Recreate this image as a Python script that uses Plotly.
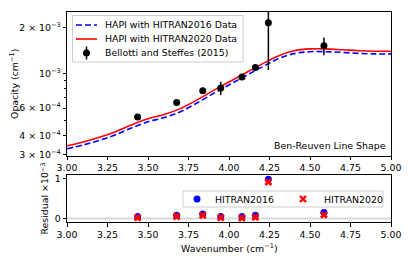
import plotly.graph_objects as go

# ---------------- data ----------------
model_x = [3.0, 3.1, 3.2, 3.3, 3.4, 3.5, 3.6, 3.7, 3.8, 3.9, 4.0,
           4.1, 4.2, 4.3, 4.4, 4.5, 4.6, 4.7, 4.8, 4.9, 5.0]
hitran2016 = [3.27e-4, 3.46e-4, 3.71e-4, 4.03e-4, 4.47e-4, 4.89e-4, 5.21e-4,
              5.68e-4, 6.45e-4, 7.41e-4, 8.47e-4, 9.67e-4, 1.10e-3, 1.245e-3,
              1.35e-3, 1.39e-3, 1.39e-3, 1.375e-3, 1.355e-3, 1.345e-3, 1.345e-3]
hitran2020 = [3.42e-4, 3.62e-4, 3.88e-4, 4.22e-4, 4.68e-4, 5.12e-4, 5.45e-4,
              5.95e-4, 6.75e-4, 7.75e-4, 8.85e-4, 1.01e-3, 1.15e-3, 1.30e-3,
              1.41e-3, 1.45e-3, 1.45e-3, 1.43e-3, 1.41e-3, 1.40e-3, 1.40e-3]

meas_x = [3.436, 3.677, 3.838, 3.949, 4.080, 4.163, 4.243, 4.586]
meas_y = [5.26e-4, 6.53e-4, 7.77e-4, 8.09e-4, 9.52e-4, 1.099e-3, 2.14e-3, 1.52e-3]
meas_err = [2e-5, 2e-5, 2e-5, 8e-5, 2e-5, 2e-5, 1.08e-3, 2.0e-4]

resid_2016 = [0.05, 0.08, 0.11, 0.05, 0.05, 0.08, 0.99, 0.15]
resid_2020 = [0.02, 0.05, 0.08, 0.02, 0.01, 0.03, 0.92, 0.09]

x_ticks = [3.0, 3.25, 3.5, 3.75, 4.0, 4.25, 4.5, 4.75, 5.0]
x_tick_text = ["3.00", "3.25", "3.50", "3.75", "4.00", "4.25", "4.50", "4.75", "5.00"]
y_ticks = [3e-4, 4e-4, 6e-4, 1e-3, 2e-3]
y_tick_text = ["3 × 10<sup>−4</sup>", "4 × 10<sup>−4</sup>", "6 × 10<sup>−4</sup>",
               "10<sup>−3</sup>", "2 × 10<sup>−3</sup>"]
y_minor = [5e-4, 7e-4, 8e-4, 9e-4]
r_ticks = [0, 1]
r_tick_text = ["0", "1"]

top_legend_labels = ["HAPI with HITRAN2016 Data", "HAPI with HITRAN2020 Data",
                     "Bellotti and Steffes (2015)"]
bottom_legend_labels = ["HITRAN2016", "HITRAN2020"]

# ---------------- figure ----------------
W, H = 409, 265
FONT = "DejaVu Sans"
FS = 9.4
BLUE = "#0000ff"
RED = "#ff0000"


def px_x(p):
    return p / W


def px_y(p):
    return (H - p) / H


fig = go.Figure()

fig.add_trace(go.Scatter(x=model_x, y=hitran2016, mode="lines",
                         line=dict(color=BLUE, width=1.6, dash="6px,3px", shape="spline"),
                         name=top_legend_labels[0], xaxis="x", yaxis="y", showlegend=False))
fig.add_trace(go.Scatter(x=model_x, y=hitran2020, mode="lines",
                         line=dict(color=RED, width=1.6, shape="spline"),
                         name=top_legend_labels[1], xaxis="x", yaxis="y", showlegend=False))
fig.add_trace(go.Scatter(x=meas_x, y=meas_y, mode="markers",
                         marker=dict(color="black", size=7),
                         error_y=dict(type="data", array=meas_err, color="black",
                                      thickness=1.5, width=0),
                         name=top_legend_labels[2], xaxis="x", yaxis="y", showlegend=False))

fig.add_trace(go.Scatter(x=meas_x, y=resid_2016, mode="markers",
                         marker=dict(color=BLUE, size=7, symbol="circle"),
                         name=bottom_legend_labels[0], xaxis="x2", yaxis="y2",
                         showlegend=False))
fig.add_trace(go.Scatter(x=meas_x, y=resid_2020, mode="markers",
                         marker=dict(color=RED, size=7, symbol="x"),
                         name=bottom_legend_labels[1], xaxis="x2", yaxis="y2",
                         showlegend=False))

ax_common = dict(showline=True, linecolor="black", linewidth=1, mirror=True,
                 ticks="outside", ticklen=3.5, tickwidth=0.8, tickcolor="black",
                 showgrid=False, zeroline=False, automargin=False,
                 tickfont=dict(family=FONT, size=FS, color="black"))

x_dom = [px_x(67), px_x(391)]

fig.update_layout(
    width=W, height=H,
    margin=dict(l=0, r=0, t=0, b=0),
    paper_bgcolor="white", plot_bgcolor="white",
    font=dict(family=FONT, size=FS, color="black"),
    showlegend=False,
    xaxis=dict(domain=x_dom, range=[3, 5], anchor="y",
               tickmode="array", tickvals=x_ticks, ticktext=x_tick_text, **ax_common),
    yaxis=dict(domain=[px_y(155.5), px_y(12)], type="log",
               range=[-3.529, -2.600], anchor="x",
               tickmode="array", tickvals=y_ticks, ticktext=y_tick_text,
               minor=dict(tickmode="array", tickvals=y_minor, ticklen=2,
                          tickcolor="black", ticks="outside"),
               **ax_common),
    xaxis2=dict(domain=x_dom, range=[3, 5], anchor="y2",
                tickmode="array", tickvals=x_ticks, ticktext=x_tick_text, **ax_common),
    yaxis2=dict(domain=[px_y(222), px_y(175)], range=[-0.09, 1.10], anchor="x2",
                tickmode="array", tickvals=r_ticks, ticktext=r_tick_text, **ax_common),
)

# zero line in residual panel
fig.add_shape(type="line", xref="x2 domain", yref="y2", x0=0, x1=1, y0=0, y1=0,
              line=dict(color="#d9d9d9", width=2), layer="below")


# ---------- manual legends (pixel-placed in paper coords) ----------
def rect(x0, y0, x1, y1):
    fig.add_shape(type="rect", xref="paper", yref="paper",
                  x0=px_x(x0), x1=px_x(x1), y0=px_y(y1), y1=px_y(y0),
                  line=dict(color="#cccccc", width=1),
                  fillcolor="rgba(255,255,255,0.8)", layer="above")


def hline(x0, x1, y, color, dash="solid", width=1.6):
    fig.add_shape(type="line", xref="paper", yref="paper",
                  x0=px_x(x0), x1=px_x(x1), y0=px_y(y), y1=px_y(y),
                  line=dict(color=color, width=width, dash=dash), layer="above")


def vline(x, y0, y1, color, width=1.5):
    fig.add_shape(type="line", xref="paper", yref="paper",
                  x0=px_x(x), x1=px_x(x), y0=px_y(y0), y1=px_y(y1),
                  line=dict(color=color, width=width), layer="above")


def dot(cx, cy, r, color):
    fig.add_shape(type="circle", xref="paper", yref="paper",
                  x0=px_x(cx - r), x1=px_x(cx + r), y0=px_y(cy + r), y1=px_y(cy - r),
                  line=dict(color=color, width=0), fillcolor=color, layer="above")


def xmark(cx, cy, r, t, color):
    pts = [(-r, -r + t), (-r + t, -r), (0, -t), (r - t, -r), (r, -r + t), (t, 0),
           (r, r - t), (r - t, r), (0, t), (-r + t, r), (-r, r - t), (-t, 0)]
    path = "M " + " L ".join(f"{px_x(cx + dx):.5f},{px_y(cy + dy):.5f}" for dx, dy in pts) + " Z"
    fig.add_shape(type="path", xref="paper", yref="paper", path=path,
                  line=dict(color=color, width=0.5), fillcolor=color, layer="above")


def label(text, x, y, anchor="left"):
    fig.add_annotation(text=text, xref="paper", yref="paper", x=px_x(x), y=px_y(y),
                       xanchor=anchor, yanchor="middle", showarrow=False,
                       font=dict(family=FONT, size=FS, color="black"))


# top legend
rect(72.5, 15.5, 243, 62)
hline(76, 97, 25, BLUE, dash="6px,3px")
hline(76, 97, 39, RED)
vline(86.5, 46.5, 59.5, "black")
dot(86.5, 53, 3.5, "black")
label(top_legend_labels[0], 102.5, 25)
label(top_legend_labels[1], 102.5, 39)
label(top_legend_labels[2], 102.5, 53)

# bottom legend
rect(183, 191, 383, 207)
dot(197, 199, 3.5, BLUE)
label(bottom_legend_labels[0], 213, 199)
xmark(303, 199, 3.6, 1.4, RED)
label(bottom_legend_labels[1], 322, 199)

# texts
label("Ben-Reuven Line Shape", 388, 145.5, anchor="right")
fig.add_annotation(text="Opacity (cm<sup>−1</sup>)", xref="paper", yref="paper",
                   x=px_x(14), y=px_y(84), xanchor="center", yanchor="middle",
                   textangle=-90, showarrow=False,
                   font=dict(family=FONT, size=FS, color="black"))
fig.add_annotation(text="Residual ×10<sup>−3</sup>", xref="paper", yref="paper",
                   x=px_x(45), y=px_y(198.5), xanchor="center", yanchor="middle",
                   textangle=-90, showarrow=False,
                   font=dict(family=FONT, size=FS, color="black"))
fig.add_annotation(text="Wavenumber (cm<sup>−1</sup>)", xref="paper", yref="paper",
                   x=px_x(229), y=px_y(248), xanchor="center", yanchor="middle",
                   showarrow=False, font=dict(family=FONT, size=FS, color="black"))

fig.write_html("out.html",
               config={"displayModeBar": False},
               post_script="document.body.style.margin='0px';"
                           "document.body.style.overflow='hidden';")
